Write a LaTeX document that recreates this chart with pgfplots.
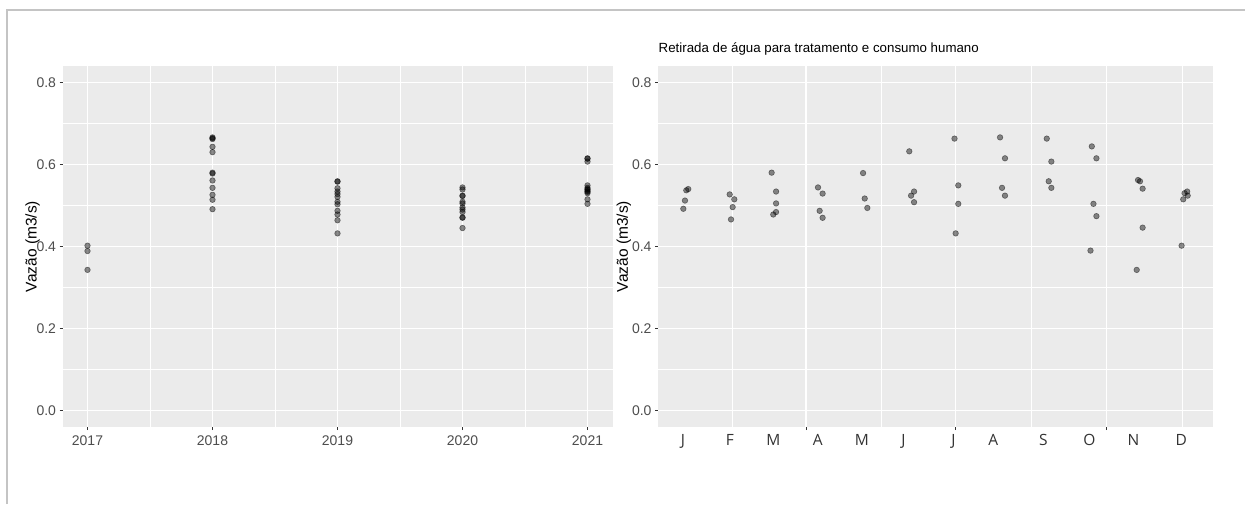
\documentclass[border=0pt]{standalone}
\usepackage{pgfplots}
\pgfplotsset{compat=1.18}
\usepackage{fontspec}
\setmainfont{Liberation Sans}
\newfontfamily\monthfont{Open Sans}
\definecolor{ggbg}{HTML}{EBEBEB}
\definecolor{ggtick}{HTML}{333333}
\definecolor{gglab}{HTML}{4D4D4D}
\definecolor{framegray}{HTML}{C4C4C4}

\pgfplotsset{
 ggstyle/.style={
  scale only axis, height=361pt,
  axis background/.style={fill=ggbg},
  axis line style={draw=none},
  grid=both,
  major grid style={white, line width=1.1pt},
  minor grid style={white, line width=0.55pt},
  tick align=outside,
  major tick length=3pt,
  minor tick length=0pt,
  tick pos=left,
  tick style={ggtick, line width=0.9pt},
  ymin=-0.04, ymax=0.84,
  ytick={0,0.2,0.4,0.6,0.8},
  yticklabels={0.0,0.2,0.4,0.6,0.8},
  minor ytick={0.1,0.3,0.5,0.7},
  tick label style={font=\fontsize{14}{15}\selectfont, text=gglab},
  xticklabel style={yshift=-2.5pt},
  ylabel={Vazão (m3/s)},
  ylabel style={font=\fontsize{15.5}{16}\selectfont, text=black, anchor=center},
  clip=false,
 },
 pts/.style={only marks, mark=*, mark size=2.8pt,
  mark options={fill=black, draw=black, fill opacity=0.45, draw opacity=0.45, line width=0.6pt}},
}

\begin{document}
\begin{tikzpicture}
\path[use as bounding box] (0pt,0pt) rectangle (1245pt,504pt);
\draw[framegray, line width=2pt] (7pt,0pt) -- (7pt,494pt) -- (1245pt,494pt);

% left panel: by year
\begin{axis}[ggstyle,
  at={(62.5pt,77pt)}, anchor=south west, width=550pt,
  xmin=2016.8, xmax=2021.2,
  xtick={2017,2018,2019,2020,2021},
  xticklabels={2017,2018,2019,2020,2021},
  minor xtick={2017.5,2018.5,2019.5,2020.5},
  ylabel style={at={(axis description cs:-0.0545,0.5)}},
]
\addplot[pts] coordinates {
 (2017,0.402) (2017,0.389) (2017,0.343)
 (2018,0.666) (2018,0.664) (2018,0.662) (2018,0.643) (2018,0.630) (2018,0.580)
 (2018,0.578) (2018,0.561) (2018,0.543) (2018,0.526) (2018,0.514) (2018,0.491)
 (2019,0.559) (2019,0.558) (2019,0.542) (2019,0.534) (2019,0.528) (2019,0.521)
 (2019,0.509) (2019,0.503) (2019,0.487) (2019,0.478) (2019,0.464) (2019,0.432)
 (2020,0.544) (2020,0.539) (2020,0.524) (2020,0.523) (2020,0.509) (2020,0.505)
 (2020,0.495) (2020,0.490) (2020,0.484) (2020,0.471) (2020,0.470) (2020,0.445)
 (2021,0.615) (2021,0.614) (2021,0.607) (2021,0.549) (2021,0.543) (2021,0.538)
 (2021,0.535) (2021,0.533) (2021,0.530) (2021,0.540) (2021,0.515) (2021,0.504)
};
\end{axis}

% right panel: by day of year
\begin{axis}[ggstyle,
  at={(658pt,77pt)}, anchor=south west, width=555pt,
  xmin=0, xmax=337.5,
  xtick={90,181,273},
  xticklabels={,,},
  minor xtick={45,136,227,319},
  extra x ticks={15.1,43.7,70.1,97.1,123.9,149.2,179.6,203.9,234.3,262.3,289.1,318.2},
  extra x tick labels={J,F,M,A,M,J,J,A,S,O,N,D},
  extra x tick style={grid=none, major tick length=0pt,
    tick label style={font=\monthfont\fontsize{15.5}{16}\selectfont, text=ggtick, yshift=-1pt}},
  ylabel style={at={(axis description cs:-0.0613,0.5)}},
  title={Retirada de água para tratamento e consumo humano},
  title style={at={(axis description cs:0,1)}, anchor=base west, inner sep=0pt,
    xshift=0.5pt, yshift=8pt, font=\fontsize{13.3}{14}\selectfont, text=black},
]
\addplot[pts] coordinates {
 (15.4,0.492) (16.4,0.512) (17.2,0.537) (18.4,0.540)
 (43.6,0.527) (46.4,0.515) (45.4,0.496) (44.4,0.466)
 (69.1,0.580) (71.8,0.534) (71.8,0.505) (71.8,0.484) (70.1,0.478)
 (97.3,0.544) (100.1,0.529) (98.3,0.487) (100.1,0.470)
 (124.7,0.579) (125.7,0.517) (127.3,0.494)
 (152.8,0.632) (155.7,0.534) (153.9,0.524) (155.7,0.508)
 (180.3,0.663) (182.6,0.549) (182.6,0.504) (181.0,0.432)
 (208.0,0.666) (211.0,0.615) (209.2,0.543) (211.0,0.524)
 (236.4,0.663) (239.2,0.607) (237.6,0.559) (239.2,0.543)
 (263.8,0.644) (266.6,0.615) (264.8,0.504) (266.6,0.474) (263.0,0.390)
 (291.9,0.562) (293.1,0.559) (294.7,0.541) (294.7,0.446) (291.1,0.343)
 (318.4,0.402) (319.4,0.515) (320.2,0.530) (321.8,0.534) (322.1,0.524)
};
\end{axis}
\end{tikzpicture}
\end{document}
